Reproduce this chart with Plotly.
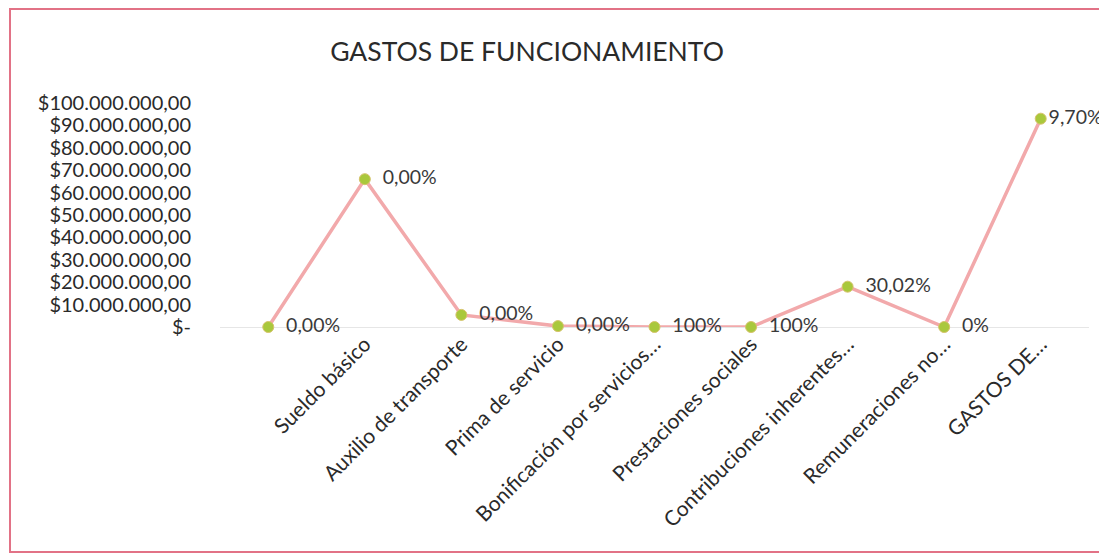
import plotly.graph_objects as go

categories = ["", "Sueldo básico", "Auxilio de transporte", "Prima de servicio",
              "Bonificación por servicios…", "Prestaciones sociales",
              "Contribuciones inherentes…", "Remuneraciones no…", "GASTOS DE…"]
values = [0, 66000000, 5400000, 400000, 0, 0, 18000000, 0, 93000000]
point_labels = ["0,00%", "0,00%", "0,00%", "0,00%", "100%", "100%", "30,02%", "0%", "9,70%"]
y_tick_vals = [0, 10000000, 20000000, 30000000, 40000000, 50000000,
               60000000, 70000000, 80000000, 90000000, 100000000]
y_tick_text = ["$-", "$10.000.000,00", "$20.000.000,00", "$30.000.000,00",
               "$40.000.000,00", "$50.000.000,00", "$60.000.000,00",
               "$70.000.000,00", "$80.000.000,00", "$90.000.000,00",
               "$100.000.000,00"]

xpos = list(range(len(categories)))
FONT = "Lato"

W, H = 1099, 547
L, R, T, B = 212, 18, 95, 228
pw, ph = W - L - R, H - T - B

# last label sits closer to its point (pushed in to fit the chart area)
label_templates = ["  %{text}"] * (len(point_labels) - 1) + ["%{text}"]

fig = go.Figure()
fig.add_trace(go.Scatter(
    x=xpos, y=values, mode="lines+markers+text",
    line=dict(color="#f2a9ab", width=3.5),
    marker=dict(color="#a9c83c", size=11, line=dict(color="#d6c36a", width=1)),
    text=point_labels, texttemplate=label_templates, textposition="middle right",
    textfont=dict(family=FONT, size=19.5, color="#3a3a3a"),
    cliponaxis=False, showlegend=False,
))

fig.update_layout(
    width=W, height=H,
    margin=dict(l=L, r=R, t=T, b=B),
    paper_bgcolor="white", plot_bgcolor="white",
    title=dict(text="GASTOS DE FUNCIONAMIENTO", x=519 / W, xanchor="center",
               y=1 - 44 / H, yanchor="middle",
               font=dict(family=FONT, size=26.5, color="#2a2a2a")),
    xaxis=dict(range=[-0.5, len(categories) - 0.5], tickmode="array",
               tickvals=xpos, ticktext=categories, tickangle=-45,
               showgrid=False, zeroline=False, showline=False, ticks="",
               tickfont=dict(family=FONT, size=21, color="#2a2a2a")),
    yaxis=dict(range=[0, 100000000], tickmode="array", tickvals=y_tick_vals,
               ticktext=y_tick_text, showgrid=False, zeroline=True,
               zerolinecolor="#e6e6e6", zerolinewidth=1, showline=False,
               ticks="", ticklabelstandoff=28,
               tickfont=dict(family=FONT, size=20, color="#2a2a2a")),
    shapes=[dict(type="rect", xref="paper", yref="paper",
                 x0=(2 - L) / pw, x1=(W + 20 - L) / pw,
                 y0=(T + ph - 544) / ph, y1=(T + ph - 1) / ph,
                 line=dict(color="#e27286", width=2), fillcolor="rgba(0,0,0,0)",
                 layer="below")],
)

fig.write_html("out.html")
